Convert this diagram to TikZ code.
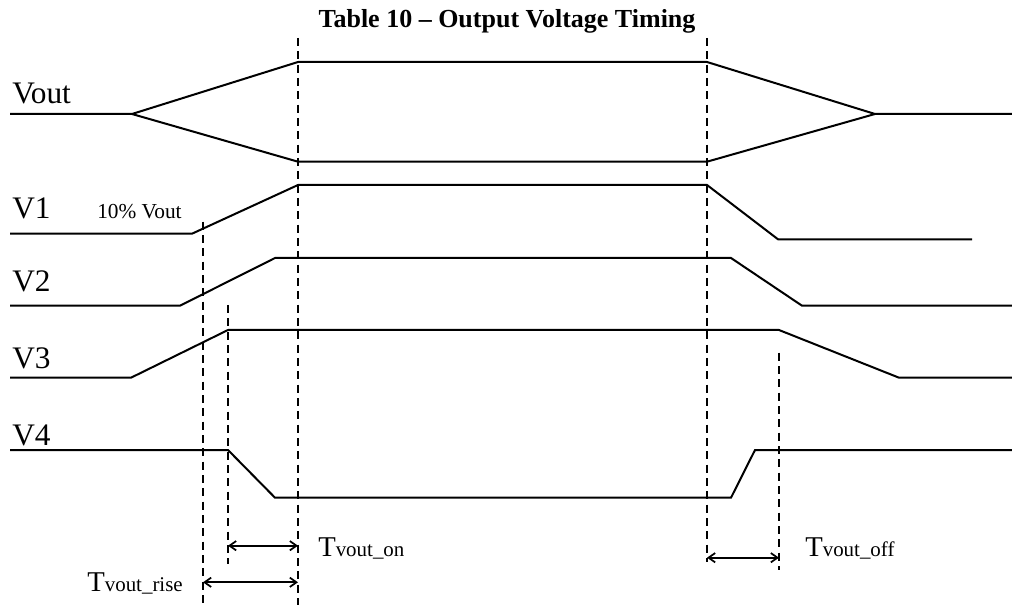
\documentclass[tikz,border=0pt]{standalone}
\usepackage{fontspec}
\setmainfont{Liberation Serif}
\usetikzlibrary{arrows.meta}

\newcommand{\tname}[1]{{\fontsize{21.5}{21.5}\selectfont T}{\fontsize{15.7}{15.7}\selectfont #1}}

\begin{document}
\begin{tikzpicture}[x=0.75pt, y=-0.75pt,
  sig/.style = {line width=1.5pt, line join=miter},
  guide/.style = {line width=1.5pt, dash pattern=on 6pt off 4pt},
  span/.style = {line width=1.3pt,
    {Straight Barb[length=5pt,width=7pt]}-{Straight Barb[length=5pt,width=7pt]}},
  siglabel/.style = {anchor=base west, inner sep=0pt,
    font=\fontsize{23.5}{23.5}\selectfont},
  tlabel/.style = {inner sep=0pt}]
  \useasboundingbox (0,0) rectangle (1012,605);

  \node[anchor=base, inner sep=0pt, font=\bfseries\fontsize{19.5}{19.5}\selectfont]
    (title) at (507,28) {Table 10 – Output Voltage Timing};

  % signal names
  \node[siglabel] (lVout) at (12,104) {Vout};
  \node[siglabel] (lV1) at (12,219) {V1};
  \node[siglabel] (lV2) at (12,291.7) {V2};
  \node[siglabel] (lV3) at (12,368.3) {V3};
  \node[siglabel] (lV4) at (12,445) {V4};
  \node[anchor=base west, inner sep=0pt, font=\fontsize{16}{16}\selectfont]
    (lTen) at (97,219) {10\% Vout};

  % waveforms
  \draw[sig] (10,114) -- (132,114) -- (298,62) -- (707,62) -- (875,114) -- (1012,114);
  \draw[sig] (132,114) -- (298,161.7) -- (707,161.7) -- (875,114);
  \draw[sig] (10,233.7) -- (192,233.7) -- (298,185) -- (707,185) -- (778,239.3) -- (972,239.3);
  \draw[sig] (10,305.7) -- (180,305.7) -- (275,258) -- (731,258) -- (802,305.7) -- (1012,305.7);
  \draw[sig] (10,377.7) -- (131,377.7) -- (228,330) -- (779,330) -- (899,377.7) -- (1012,377.7);
  \draw[sig] (10,450) -- (228,450) -- (275,497.7) -- (731,497.7) -- (755,450) -- (1012,450);

  % timing guides
  \coordinate (riseTop) at (203,221.7);
  \coordinate (riseBot) at (203,605);
  \coordinate (onTop) at (228,305);
  \coordinate (onBot) at (228,564);
  \coordinate (upTop) at (298,38);
  \coordinate (upBot) at (298,605);
  \coordinate (downTop) at (707,38);
  \coordinate (downBot) at (707,562);
  \coordinate (offTop) at (779,352.7);
  \coordinate (offBot) at (779,570);
  \foreach \g in {rise,on,up,down,off}
    \draw[guide] (\g Top) -- (\g Bot);

  % intervals
  \coordinate (onA) at (228,545.7);
  \coordinate (onB) at (298,545.7);
  \coordinate (riseA) at (203,582.3);
  \coordinate (riseB) at (298,582.3);
  \coordinate (offA) at (707,557.7);
  \coordinate (offB) at (779,557.7);
  \draw[span] (onA) -- (onB);
  \draw[span] (riseA) -- (riseB);
  \draw[span] (offA) -- (offB);
  \node[tlabel, anchor=base west] (tOn) at (318,556.7) {\tname{vout\_on}};
  \node[tlabel, anchor=base east] (tRise) at (183,591) {\tname{vout\_rise}};
  \node[tlabel, anchor=base west] (tOff) at (805,556.7) {\tname{vout\_off}};
\end{tikzpicture}
\end{document}
